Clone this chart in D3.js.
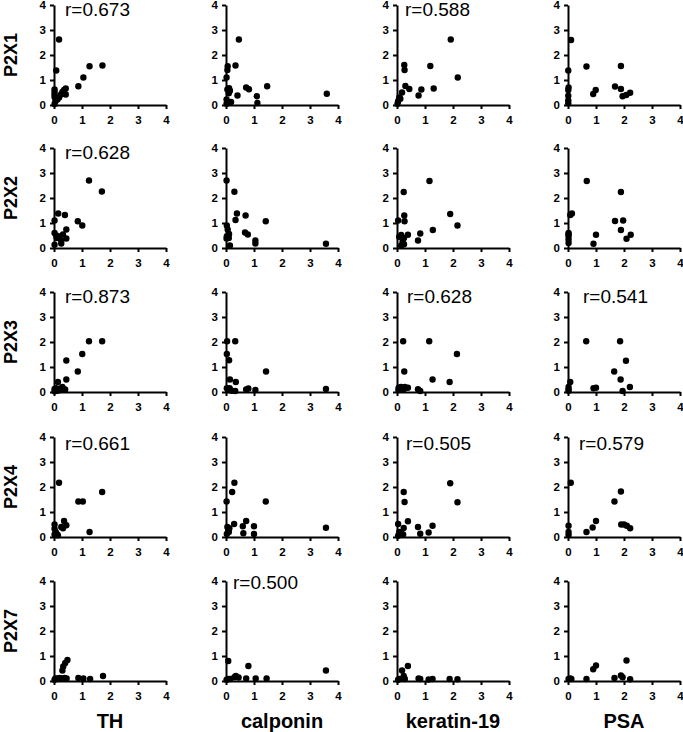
<!DOCTYPE html>
<html><head><meta charset="utf-8">
<script src="https://cdn.jsdelivr.net/npm/d3@7"></script>
<style>html,body{margin:0;padding:0;background:#fff;}svg{display:block;}</style>
</head><body>
<script>
// ---- data ----
const receptors = ["P2X1", "P2X2", "P2X3", "P2X4", "P2X7"];
const markers = ["TH", "calponin", "keratin-19", "PSA"];
const tickValues = [0, 1, 2, 3, 4];

const P2X1_TH = [[0.18,2.62],[0.08,1.38],[0.02,0.62],[0.02,0.52],[0.02,0.42],[0.02,0.32],[0.05,0.15],[0.12,0.22],[0.18,0.3],[0.25,0.42],[0.3,0.52],[0.36,0.6],[0.42,0.66],[0.42,0.42],[0.87,0.75],[1.05,1.1],[1.27,1.55],[1.73,1.58],[0.02,0.04]];
const P2X1_calponin = [[0.46,2.62],[0.34,1.58],[0.06,1.55],[0.05,1.4],[0.02,1.1],[0.11,0.67],[0.14,0.57],[0.1,0.47],[0.05,0.62],[0.02,0.22],[0.18,0.12],[0.41,0.38],[0.72,0.7],[0.82,0.63],[1.1,0.35],[1.12,0.08],[1.47,0.75],[3.6,0.45],[0.02,0.05]];
const P2X1_keratin = [[1.92,2.62],[1.19,1.56],[2.17,1.1],[0.26,1.6],[0.27,1.4],[0.3,0.76],[0.44,0.64],[1.31,0.66],[0.87,0.62],[0.77,0.38],[0.18,0.5],[0.08,0.3],[0.04,0.15],[0.12,0.25],[0.02,0.05]];
const P2X1_PSA = [[0.11,2.6],[0.01,1.38],[0.66,1.54],[1.89,1.56],[1.68,0.74],[1.89,0.64],[0.99,0.6],[0.9,0.44],[1.95,0.35],[2.08,0.4],[2.22,0.49],[0.02,0.7],[0.01,0.6],[0.01,0.37],[0.01,0.18],[0.01,0.07]];

const P2X2_TH = [[1.25,2.7],[1.71,2.26],[0.15,1.38],[0.02,1.1],[0.39,1.32],[0.85,1.07],[1.01,0.9],[0.44,0.74],[0.02,0.6],[0.08,0.5],[0.18,0.46],[0.32,0.54],[0.44,0.38],[0.26,0.3],[0.26,0.18],[0.02,0.13],[0.1,0.4]];
const P2X2_calponin = [[0.02,2.7],[0.3,2.25],[0.39,1.38],[0.34,1.12],[0.7,1.3],[1.42,1.07],[0.68,0.62],[0.78,0.54],[1.05,0.3],[1.05,0.18],[3.57,0.17],[0.03,0.9],[0.06,0.74],[0.03,0.47],[0.11,0.56],[0.02,0.38],[0.1,0.4],[0.14,0.1]];
const P2X2_keratin = [[1.16,2.68],[0.24,2.24],[0.26,1.3],[0.27,1.07],[1.9,1.36],[2.16,0.9],[1.28,0.72],[0.83,0.58],[0.75,0.3],[0.04,1.1],[0.39,0.53],[0.15,0.52],[0.08,0.45],[0.25,0.4],[0.2,0.25],[0.15,0.1],[0.25,0.15]];
const P2X2_PSA = [[0.67,2.68],[1.89,2.24],[0.08,1.32],[0.14,1.38],[1.68,1.08],[1.97,1.1],[1.89,0.72],[2.09,0.37],[2.24,0.53],[1.0,0.53],[0.91,0.17],[0.02,0.6],[0.02,0.47],[0.02,0.34],[0.02,0.2],[0.02,0.55]];

const P2X3_TH = [[1.25,2.03],[1.72,2.03],[1.01,1.52],[0.44,1.26],[0.85,0.82],[0.44,0.5],[0.14,0.4],[0.02,0.12],[0.08,0.15],[0.18,0.12],[0.28,0.15],[0.4,0.1],[0.3,0.2],[0.12,0.05],[0.02,0.03],[0.22,0.08]];
const P2X3_calponin = [[0.04,2.03],[0.33,2.03],[0.03,1.52],[0.11,1.27],[1.43,0.82],[0.14,0.5],[0.35,0.4],[0.03,0.15],[0.13,0.15],[0.2,0.05],[0.33,0.04],[0.72,0.1],[0.8,0.14],[1.05,0.08],[3.57,0.12],[0.08,0.08]];
const P2X3_keratin = [[0.22,2.03],[1.15,2.03],[2.14,1.52],[0.26,0.82],[1.27,0.5],[1.88,0.4],[0.39,0.17],[0.75,0.11],[0.83,0.04],[0.06,0.17],[0.14,0.2],[0.2,0.1],[0.28,0.2],[0.05,0.08],[0.25,0.12]];
const P2X3_PSA = [[0.65,2.03],[1.86,2.03],[2.07,1.25],[1.65,0.82],[1.88,0.5],[0.08,0.4],[2.21,0.2],[1.95,0.04],[0.91,0.15],[1.0,0.17],[0.02,0.2],[0.02,0.1],[0.02,0.05]];

const P2X4_TH = [[0.18,2.17],[1.72,1.8],[0.87,1.42],[1.03,1.42],[0.36,0.64],[0.44,0.47],[0.26,0.4],[0.32,0.35],[1.27,0.2],[0.02,0.5],[0.02,0.33],[0.06,0.2],[0.14,0.07],[0.1,0.12],[0.02,0.1]];
const P2X4_calponin = [[0.3,2.17],[0.22,1.8],[0.02,1.42],[1.42,1.42],[0.29,0.52],[0.72,0.64],[0.6,0.43],[1.0,0.43],[0.62,0.15],[1.0,0.12],[3.57,0.37],[0.05,0.4],[0.08,0.28],[0.1,0.2],[0.03,0.12],[0.12,0.35]];
const P2X4_keratin = [[1.9,2.15],[0.24,1.8],[0.27,1.4],[2.16,1.39],[0.39,0.63],[1.27,0.45],[0.75,0.4],[0.04,0.52],[0.24,0.36],[0.83,0.13],[1.13,0.18],[0.08,0.2],[0.16,0.12],[0.22,0.1],[0.04,0.05]];
const P2X4_PSA = [[0.1,2.17],[1.89,1.82],[1.66,1.42],[0.02,0.45],[1.0,0.64],[0.88,0.38],[0.66,0.2],[1.9,0.5],[2.0,0.5],[2.1,0.45],[2.22,0.35],[0.02,0.2],[0.02,0.08]];

const P2X7_TH = [[0.48,0.84],[0.4,0.72],[0.33,0.58],[0.3,0.42],[1.75,0.2],[0.87,0.12],[1.05,0.1],[1.29,0.08],[0.05,0.1],[0.12,0.1],[0.2,0.12],[0.28,0.1],[0.38,0.12],[0.45,0.1],[0.02,0.05]];
const P2X7_calponin = [[0.08,0.8],[0.8,0.6],[3.57,0.42],[0.35,0.2],[0.45,0.14],[0.72,0.1],[1.06,0.1],[1.45,0.1],[0.08,0.08],[0.15,0.08],[0.02,0.05],[0.3,0.15]];
const P2X7_keratin = [[0.39,0.6],[0.18,0.42],[0.24,0.2],[0.24,0.1],[0.08,0.08],[0.04,0.05],[0.77,0.1],[0.83,0.08],[1.13,0.06],[1.27,0.08],[1.88,0.08],[2.16,0.07],[0.28,0.08]];
const P2X7_PSA = [[1.0,0.62],[0.9,0.47],[2.09,0.82],[1.89,0.22],[1.95,0.15],[1.66,0.12],[0.66,0.08],[2.22,0.07],[0.08,0.1],[0.02,0.08],[0.12,0.08]];

// correlation labels per panel (row = receptor, col = marker); "" = none
const rP2X1 = ["r=0.673", "", "r=0.588", ""];
const rP2X2 = ["r=0.628", "", "", ""];
const rP2X3 = ["r=0.873", "", "r=0.628", "r=0.541"];
const rP2X4 = ["r=0.661", "", "r=0.505", "r=0.579"];
const rP2X7 = ["", "r=0.500", "", ""];

// ---- assemble ----
const panelData = [
  [P2X1_TH, P2X1_calponin, P2X1_keratin, P2X1_PSA],
  [P2X2_TH, P2X2_calponin, P2X2_keratin, P2X2_PSA],
  [P2X3_TH, P2X3_calponin, P2X3_keratin, P2X3_PSA],
  [P2X4_TH, P2X4_calponin, P2X4_keratin, P2X4_PSA],
  [P2X7_TH, P2X7_calponin, P2X7_keratin, P2X7_PSA]
];
const rLabels = [rP2X1, rP2X2, rP2X3, rP2X4, rP2X7];

// ---- layout ----
const W = 683, H = 732;
const colX = [54, 226, 397, 568];      // left edge (x=0) of each panel
const rowY = [105, 248, 392, 537, 681]; // bottom edge (y=0) of each panel
const pw = 112, ph = 100;
const rDy = [11, 11, 11, 13, 8];
const rDx = [[11,0,8,0],[11,0,0,0],[11,0,10,15],[11,0,9,11],[0,7,0,0]];
const FONT = "'Liberation Sans', Arial, Helvetica, sans-serif";

const svg = d3.select("body").append("svg").attr("width", W).attr("height", H)
  .style("font-family", FONT);

const x = d3.scaleLinear().domain([0, 4]).range([0, pw]);
const y = d3.scaleLinear().domain([0, 4]).range([ph, 0]);

rowY.forEach((by, ri) => {
  colX.forEach((bx, ci) => {
    const g = svg.append("g").attr("transform", `translate(${bx},${by - ph})`);
    const xa = g.append("g").attr("transform", `translate(0,${ph})`)
      .call(d3.axisBottom(x).tickValues(tickValues).tickFormat(d3.format("d")).tickSize(4).tickPadding(7).tickSizeOuter(0));
    const ya = g.append("g")
      .call(d3.axisLeft(y).tickValues(tickValues).tickFormat(d3.format("d")).tickSize(4).tickPadding(4).tickSizeOuter(0));
    [xa, ya].forEach(a => {
      a.select(".domain").attr("stroke", "#000").attr("stroke-width", 2);
      a.selectAll(".tick line").attr("stroke", "#000").attr("stroke-width", 2);
      a.selectAll(".tick text").attr("fill", "#000").style("font-size", "11.5px")
        .style("font-weight", "bold").style("font-family", FONT);
    });
    g.append("g").selectAll("circle").data(panelData[ri][ci]).join("circle")
      .attr("cx", d => x(d[0])).attr("cy", d => y(d[1])).attr("r", 3.2).attr("fill", "#000");
    const lab = rLabels[ri][ci];
    if (lab) {
      g.append("text").attr("x", rDx[ri][ci]).attr("y", rDy[ri])
        .style("font-size", "19px").attr("fill", "#000").text(lab);
    }
  });
  svg.append("text")
    .attr("transform", `translate(17,${by - ph / 2}) rotate(-90)`)
    .attr("text-anchor", "middle").style("font-size", "18px").style("font-weight", "bold")
    .text(receptors[ri]);
});

markers.forEach((m, ci) => {
  svg.append("text").attr("x", colX[ci] + pw / 2).attr("y", 728)
    .attr("text-anchor", "middle").style("font-size", "20px").style("font-weight", "bold")
    .text(m);
});
</script>
</body></html>
